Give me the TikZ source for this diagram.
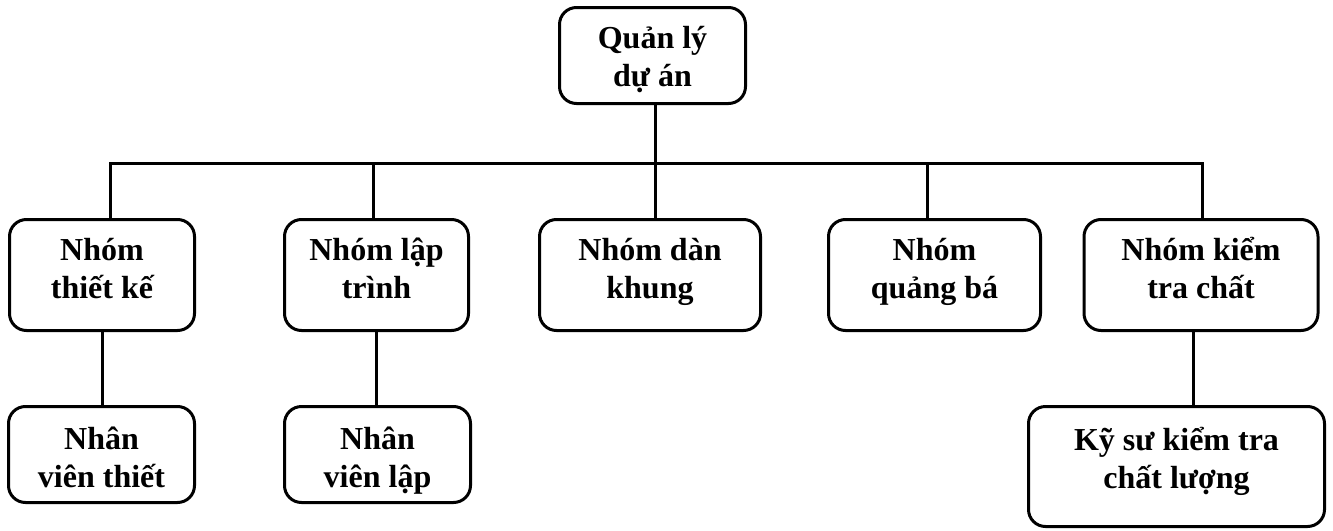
\documentclass[tikz,border=0pt]{standalone}
\usepackage{fontspec}
\setmainfont{Liberation Serif}
\usepackage{tikz}

\begin{document}
\begin{tikzpicture}[x=1pt, y=-1pt, line width=3pt,
  orgbox/.style={draw, rounded corners=17pt, inner sep=0pt, align=center,
    font=\fontsize{32}{37.5}\selectfont\bfseries, text height=65pt, text depth=#1},
  orgbox/.default=0pt]
\useasboundingbox (0,0) rectangle (1333,530);

% Top level
\node[orgbox=4pt, minimum width=186pt, minimum height=96pt] (root) at (652.5,55.5) {Quản lý\\dự án};

% Team level
\node[orgbox=19pt, minimum width=185pt, minimum height=111pt] (g1) at (102,275) {Nhóm\\thiết kế};
\node[orgbox=19pt, minimum width=184pt, minimum height=111pt] (g2) at (376.5,275) {Nhóm lập\\trình};
\node[orgbox=19pt, minimum width=221pt, minimum height=111pt] (g3) at (650,275) {Nhóm dàn\\khung};
\node[orgbox=19pt, minimum width=212pt, minimum height=111pt] (g4) at (934.5,275) {Nhóm\\quảng bá};
\node[orgbox=19pt, minimum width=234pt, minimum height=111pt] (g5) at (1201,275) {Nhóm kiểm\\tra chất};

% Staff level
\node[orgbox, minimum width=186pt, minimum height=96pt] (s1) at (101.5,454.5) {Nhân\\viên thiết};
\node[orgbox, minimum width=186pt, minimum height=96pt] (s2) at (377.5,454.5) {Nhân\\viên lập};
\node[orgbox=22pt, minimum width=296pt, minimum height=120pt] (s5) at (1176.5,466.5) {Kỹ sư kiểm tra\\chất lượng};

% Connectors
\coordinate (drop1) at (110,163);
\coordinate (drop2) at (373,163);
\coordinate (trunk) at (655,163);
\coordinate (drop4) at (927,163);
\coordinate (drop5) at (1202,163);
\coordinate (link5) at (1193,380);

\draw (root.south -| trunk) -- (g3.north -| trunk);
\draw (g1.north -| drop1) -- (drop1) -- (drop5) -- (g5.north -| drop5);
\draw (drop2) -- (g2.north -| drop2);
\draw (drop4) -- (g4.north -| drop4);
\draw (g1.south) -- (s1.north -| g1.south);
\draw (g2.south) -- (s2.north -| g2.south);
\draw (g5.south -| link5) -- (s5.north -| link5);
\end{tikzpicture}
\end{document}
